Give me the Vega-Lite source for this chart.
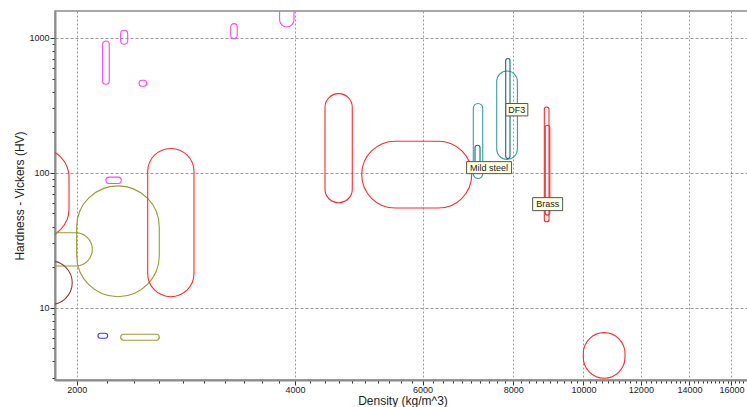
{
  "$schema": "https://vega.github.io/schema/vega-lite/v6.json",
  "width": 695,
  "height": 369,
  "autosize": "none",
  "padding": {"left": 55, "top": 11, "right": 0, "bottom": 27},
  "background": "white",
  "config": {
    "font": "Liberation Sans",
    "view": {"stroke": "#8c8c8c", "strokeWidth": 1.5}
  },
  "datasets": {
    "ellipses": [
      {"name": "m1", "family": "Ceramic", "xmin": 2172, "xmax": 2218, "ymin": 454, "ymax": 950},
      {"name": "m2", "family": "Ceramic", "xmin": 2300, "xmax": 2352, "ymin": 898, "ymax": 1140},
      {"name": "m3", "family": "Ceramic", "xmin": 2438, "xmax": 2498, "ymin": 439, "ymax": 486},
      {"name": "m4", "family": "Ceramic", "xmin": 3262, "xmax": 3330, "ymin": 990, "ymax": 1278},
      {"name": "m5", "family": "Ceramic", "xmin": 3810, "xmax": 3988, "ymin": 1206, "ymax": 2256},
      {"name": "m6", "family": "Ceramic", "xmin": 2195, "xmax": 2304, "ymin": 83.4, "ymax": 92.9},
      {"name": "r1", "family": "Metal", "xmin": 1623, "xmax": 1952, "ymin": 32.8, "ymax": 152},
      {"name": "o1", "family": "Composite", "xmin": 2000, "xmax": 2600, "ymin": 12.06, "ymax": 80.1},
      {"name": "r2", "family": "Metal", "xmin": 2506, "xmax": 2903, "ymin": 12.06, "ymax": 151.7},
      {"name": "o2", "family": "Composite", "xmin": 1461, "xmax": 2102, "ymin": 20.4, "ymax": 36.0},
      {"name": "d1", "family": "Alloy", "xmin": 1658, "xmax": 1972, "ymin": 10.56, "ymax": 22.2},
      {"name": "b1", "family": "Blue", "xmin": 2140, "xmax": 2207, "ymin": 5.93, "ymax": 6.46},
      {"name": "o3", "family": "Composite", "xmin": 2300, "xmax": 2600, "ymin": 5.73, "ymax": 6.35},
      {"name": "r3", "family": "Metal", "xmin": 4401, "xmax": 4799, "ymin": 60, "ymax": 387},
      {"name": "r4", "family": "Metal", "xmin": 4945, "xmax": 7013, "ymin": 54.8, "ymax": 171.7},
      {"name": "Mild steel", "family": "Steel", "xmin": 7048, "xmax": 7262, "ymin": 90.9, "ymax": 326.6},
      {"name": "Mild steel core", "family": "SteelCore", "xmin": 7086, "xmax": 7200, "ymin": 104, "ymax": 160},
      {"name": "DF3", "family": "Steel", "xmin": 7592, "xmax": 8107, "ymin": 125.7, "ymax": 569},
      {"name": "DF3 core", "family": "SteelCore", "xmin": 7812, "xmax": 7919, "ymin": 127.8, "ymax": 704},
      {"name": "Brass", "family": "Metal", "xmin": 8831, "xmax": 8963, "ymin": 43.4, "ymax": 308},
      {"name": "Brass core", "family": "Metal", "xmin": 8857, "xmax": 8986, "ymin": 48.6, "ymax": 225.6},
      {"name": "r5", "family": "Metal", "xmin": 9994, "xmax": 11410, "ymin": 3.0, "ymax": 6.53}
    ],
    "labels": [
      {"name": "Mild steel", "x": 7410, "y": 109.3},
      {"name": "DF3", "x": 8093, "y": 293.8},
      {"name": "Brass", "x": 8925, "y": 58.6}
    ]
  },
  "layer": [
    {
      "data": {"name": "ellipses"},
      "mark": {"type": "rect", "filled": false, "cornerRadius": 999, "strokeWidth": 1.1, "clip": true},
      "encoding": {
        "x": {
          "field": "xmin", "type": "quantitative",
          "scale": {"type": "log", "domain": [1867, 16970], "nice": false, "zero": false},
          "axis": {
            "title": "Density (kg/m^3)",
            "values": [2000,2200,2400,2600,2800,3000,3200,3400,3600,3800,4000,4200,4400,4600,4800,5000,5200,5400,5600,5800,6000,6200,6400,6600,6800,7000,7200,7400,7600,7800,8000,8200,8400,8600,8800,9000,9200,9400,9600,9800,10000,10200,10400,10600,10800,11000,11200,11400,11600,11800,12000,12200,12400,12600,12800,13000,13200,13400,13600,13800,14000,14200,14400,14600,14800,15000,15200,15400,15600,15800,16000,16200,16400,16600,16800],
            "labelExpr": "datum.value % 2000 === 0 ? format(datum.value, 'd') : ''",
            "grid": true,
            "gridOpacity": {"condition": {"test": "datum.value % 2000 === 0", "value": 1}, "value": 0},
            "gridDash": [2, 2],
            "gridColor": "#999999",
            "gridWidth": 1,
            "tickSize": {"condition": {"test": "datum.value % 2000 === 0", "value": 5}, "value": 3},
            "tickColor": "#333333",
            "domainColor": "#8c8c8c",
            "domainWidth": 2,
            "labelFontSize": 9,
            "labelColor": "#222222",
            "labelPadding": 0,
            "labelOverlap": false,
            "labelFlush": false,
            "labelBound": false,
            "titleFontSize": 12,
            "titleFontWeight": "normal",
            "titleColor": "#222222",
            "titlePadding": 1
          }
        },
        "x2": {"field": "xmax"},
        "y": {
          "field": "ymin", "type": "quantitative",
          "scale": {"type": "log", "domain": [2.91, 1585], "nice": false, "zero": false},
          "axis": {
            "title": "Hardness - Vickers (HV)",
            "values": [3,4,5,6,7,8,9,10,20,30,40,50,60,70,80,90,100,200,300,400,500,600,700,800,900,1000],
            "labelExpr": "(datum.value === 10 || datum.value === 100 || datum.value === 1000) ? format(datum.value, 'd') : ''",
            "grid": true,
            "gridOpacity": {"condition": {"test": "datum.value === 10 || datum.value === 100 || datum.value === 1000", "value": 1}, "value": 0},
            "gridDash": [3, 2],
            "gridColor": "#999999",
            "gridWidth": 1,
            "tickSize": {"condition": {"test": "datum.value === 10 || datum.value === 100 || datum.value === 1000", "value": 5}, "value": 3},
            "tickColor": "#333333",
            "domainColor": "#8c8c8c",
            "domainWidth": 2,
            "labelFontSize": 9,
            "labelColor": "#222222",
            "labelPadding": 1,
            "labelOverlap": false,
            "labelFlush": false,
            "labelBound": false,
            "titleFontSize": 12,
            "titleFontWeight": "normal",
            "titleColor": "#222222",
            "titlePadding": 2
          }
        },
        "y2": {"field": "ymax"},
        "stroke": {
          "field": "family", "type": "nominal",
          "scale": {
            "domain": ["Ceramic", "Metal", "Composite", "Steel", "SteelCore", "Blue", "Alloy"],
            "range": ["#ff40ff", "#ff2a2a", "#9a9a30", "#35a0a0", "#0a7070", "#3a3aff", "#9b3030"]
          },
          "legend": null
        }
      }
    },
    {
      "data": {"name": "labels"},
      "mark": {"type": "point", "filled": true, "size": 400, "fill": "#ffffe1", "stroke": "#555555", "strokeWidth": 1, "opacity": 1},
      "encoding": {
        "x": {"field": "x", "type": "quantitative", "axis": {"title": "Density (kg/m^3)"}},
        "y": {"field": "y", "type": "quantitative", "axis": {"title": "Hardness - Vickers (HV)"}},
        "shape": {
          "field": "name", "type": "nominal",
          "scale": {
            "domain": ["Mild steel", "DF3", "Brass"],
            "range": ["M-2.25,-0.6H2.25V0.6H-2.25Z", "M-1.1,-0.62H1.1V0.62H-1.1Z", "M-1.5,-0.65H1.5V0.65H-1.5Z"]
          },
          "legend": null
        }
      }
    },
    {
      "data": {"name": "labels"},
      "mark": {"type": "text", "fontSize": 9, "color": "#222222", "align": "center", "baseline": "middle"},
      "encoding": {
        "x": {"field": "x", "type": "quantitative", "axis": {"title": "Density (kg/m^3)"}},
        "y": {"field": "y", "type": "quantitative", "axis": {"title": "Hardness - Vickers (HV)"}},
        "text": {"field": "name", "type": "nominal"}
      }
    }
  ]
}
